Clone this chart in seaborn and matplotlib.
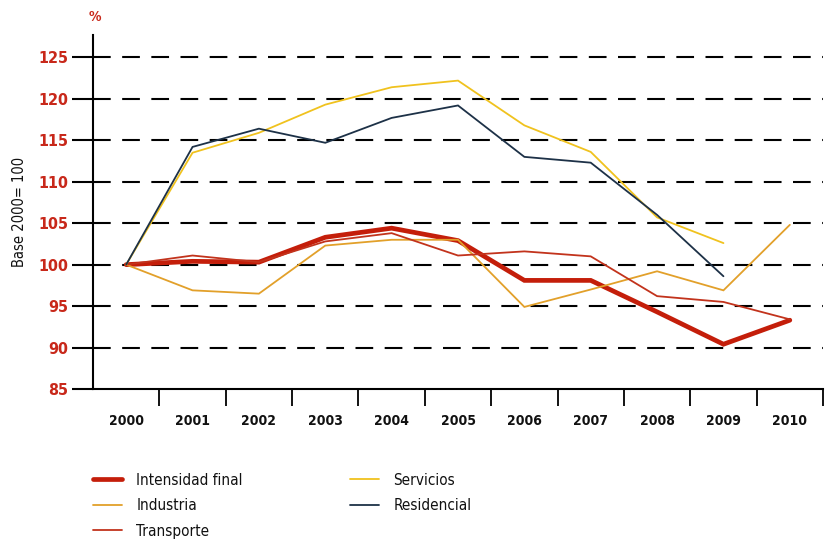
import matplotlib
matplotlib.use("Agg")
import matplotlib.pyplot as plt
import matplotlib.font_manager as fm
import seaborn as sns
import pandas as pd

# Data: energy intensity indices, base 2000 = 100
years = ["2000", "2001", "2002", "2003", "2004", "2005",
         "2006", "2007", "2008", "2009", "2010"]
intensidad_final = [100.0, 100.4, 100.3, 103.3, 104.4, 102.9, 98.1, 98.1, 94.3, 90.4, 93.3]
industria = [100.0, 96.9, 96.5, 102.3, 103.0, 103.0, 94.9, 97.0, 99.2, 96.9, 104.8]
transporte = [100.0, 101.1, 100.3, 102.8, 103.8, 101.1, 101.6, 101.0, 96.2, 95.5, 93.4]
servicios = [100.0, 113.5, 115.9, 119.3, 121.4, 122.2, 116.8, 113.6, 105.7, 102.6, None]
residencial = [100.0, 114.2, 116.4, 114.7, 117.7, 119.2, 113.0, 112.3, 106.0, 98.6, None]
yticks = [85, 90, 95, 100, 105, 110, 115, 120, 125]

series = [
    ("Intensidad final", intensidad_final, "#c41e0a", 3.4),
    ("Industria", industria, "#e2a02a", 1.3),
    ("Transporte", transporte, "#c2331c", 1.3),
    ("Servicios", servicios, "#f0c21e", 1.3),
    ("Residencial", residencial, "#1d3147", 1.3),
]

sns.set_theme(style="white")
names = {f.name for f in fm.fontManager.ttflist}
base_font = "Liberation Sans Narrow" if "Liberation Sans Narrow" in names else "DejaVu Sans"
plt.rcParams["font.family"] = [base_font, "DejaVu Sans"]
plt.rcParams["font.stretch"] = "condensed"
plt.rcParams["text.color"] = "#111111"

fig = plt.figure(figsize=(8.25, 5.41), dpi=100)
ax = fig.add_axes([93 / 825, 1 - 389 / 541, (823 - 93) / 825, (389 - 35) / 541])

xpos = list(range(len(years)))
for name, vals, color, lw in series:
    df = pd.DataFrame({"x": xpos, "y": vals}).dropna()
    sns.lineplot(data=df, x="x", y="y", ax=ax, color=color, linewidth=lw,
                 label=name, zorder=3, solid_joinstyle="miter")

ax.set_xlim(-0.5, 10.5)
ax.set_ylim(85, 127.7)

# Category labels at the year positions, tick marks on the boundaries
ax.set_xticks(xpos)
ax.set_xticklabels(years, fontsize=10, fontweight="bold", color="#111111")
ax.set_xticks([i + 0.5 for i in xpos], minor=True)
ax.tick_params(axis="x", which="major", length=0, pad=18)
ax.tick_params(axis="x", which="minor", length=12, width=1.3, color="black",
               direction="out", bottom=True)

ax.set_yticks(yticks)
ax.set_yticklabels([str(v) for v in yticks], fontsize=11.5, fontweight="bold",
                   color="#c8281a")
ax.tick_params(axis="y", length=15, width=1.5, color="black", direction="out",
               left=True, pad=3)

for v in yticks[1:]:
    ax.axhline(v, color="black", linewidth=1.5, linestyle=(0, (8.5, 5.5)),
               zorder=1)

for s in ["top", "right"]:
    ax.spines[s].set_visible(False)
for s in ["left", "bottom"]:
    ax.spines[s].set_color("black")
    ax.spines[s].set_linewidth(1.5)

ax.set_xlabel("")
ax.set_ylabel("Base 2000= 100", fontsize=10.5, color="#111111")
ax.yaxis.set_label_coords(-0.091, 0.5)
fig.text(95 / 825, 1 - 17 / 541, "%", color="#c8281a", fontsize=10,
         fontweight="bold", ha="center", va="center")

h, l = ax.get_legend_handles_labels()
ax.get_legend().remove()
legend_kw = dict(loc="upper left", frameon=False, fontsize=11,
                 handlelength=1.9, handletextpad=0.95, labelspacing=0.68,
                 labelcolor="#111111")
leg1 = fig.legend(h[:3], l[:3], bbox_to_anchor=(79 / 825, 1 - 459 / 541),
                  **legend_kw)
leg2 = fig.legend(h[3:], l[3:], bbox_to_anchor=(336 / 825, 1 - 459 / 541),
                  **legend_kw)

fig.savefig("out.png", dpi=100)
